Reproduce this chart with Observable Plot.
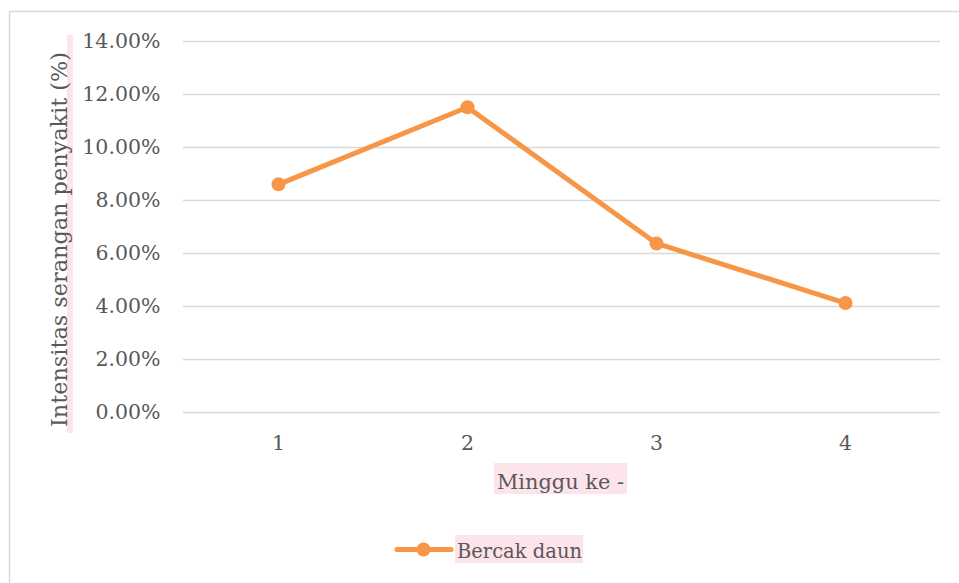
<!DOCTYPE html>
<html>
<head>
<meta charset="utf-8">
<script src="https://cdn.jsdelivr.net/npm/d3@7"></script>
<script src="https://cdn.jsdelivr.net/npm/@observablehq/plot@0.6"></script>
<style>
  html, body { margin: 0; padding: 0; background: #ffffff; }
  #chart { width: 959px; height: 583px; overflow: hidden; }
</style>
</head>
<body>
<div id="chart"></div>
<script>
const weeks = ["1", "2", "3", "4"];
const intensity = [0.0861, 0.1152, 0.0638, 0.0413];
const yTicks = [0, 0.02, 0.04, 0.06, 0.08, 0.10, 0.12, 0.14];
const seriesName = "Bercak daun";
const xTitle = "Minggu ke -";
const yTitle = "Intensitas serangan penyakit (%)";

const data = weeks.map((w, i) => ({ week: w, value: intensity[i] }));

const FONT = "DejaVu Serif";
const TEXT = "#595959";
const ORANGE = "#F79646";
const GRID = "#d9d9d9";
const PINK = "#fde3ea";

const chart = Plot.plot({
  width: 959,
  height: 583,
  marginLeft: 183,
  marginRight: 19,
  marginTop: 41,
  marginBottom: 171,
  style: { fontFamily: FONT, fontSize: "20px", color: TEXT, background: "#ffffff" },
  x: { type: "point", domain: weeks, padding: 0.5, label: null },
  y: { domain: [0, 0.14], label: null },
  marks: [
    Plot.gridY(yTicks, { stroke: GRID, strokeOpacity: 1, strokeWidth: 1.4 }),
    Plot.axisY(yTicks, {
      tickSize: 0, tickPadding: 23, fontSize: 20.5, fill: TEXT, label: null,
      tickFormat: d => (d * 100).toFixed(2) + "%"
    }),
    Plot.axisX({ tickSize: 0, tickPadding: 23, fontSize: 20.5, fill: TEXT, label: null }),
    Plot.line(data, { x: "week", y: "value", stroke: ORANGE, strokeWidth: 5 }),
    Plot.dot(data, { x: "week", y: "value", r: 7, fill: ORANGE })
  ]
});

document.getElementById("chart").appendChild(chart);

const svg = d3.select(chart);

// chart area frame (light grey border)
svg.append("line").attr("x1", 9.5).attr("x2", 9.5).attr("y1", 11.5).attr("y2", 583)
  .attr("stroke", GRID).attr("stroke-width", 1.5);
svg.append("line").attr("x1", 9.5).attr("x2", 959).attr("y1", 11.5).attr("y2", 11.5)
  .attr("stroke", GRID).attr("stroke-width", 1.5);

// y-axis title with highlight strip
svg.append("rect").attr("x", 67).attr("y", 35).attr("width", 6).attr("height", 398).attr("fill", PINK);
svg.append("text")
  .attr("transform", "translate(67,239.5) rotate(-90)")
  .attr("text-anchor", "middle")
  .attr("textLength", 375).attr("lengthAdjust", "spacingAndGlyphs")
  .attr("font-family", FONT).attr("font-size", 21.5).attr("fill", TEXT)
  .text(yTitle);

// x-axis title with highlight box
svg.append("rect").attr("x", 494).attr("y", 463).attr("width", 133).attr("height", 31).attr("fill", PINK);
svg.append("text")
  .attr("x", 560.5).attr("y", 489)
  .attr("text-anchor", "middle")
  .attr("textLength", 127).attr("lengthAdjust", "spacingAndGlyphs")
  .attr("font-family", FONT).attr("font-size", 21).attr("fill", TEXT)
  .text(xTitle);

// legend
svg.append("line").attr("x1", 397).attr("x2", 451).attr("y1", 549.5).attr("y2", 549.5)
  .attr("stroke", ORANGE).attr("stroke-width", 5).attr("stroke-linecap", "round");
svg.append("circle").attr("cx", 423.5).attr("cy", 549.5).attr("r", 7).attr("fill", ORANGE);
svg.append("rect").attr("x", 455).attr("y", 535).attr("width", 128).attr("height", 28).attr("fill", PINK);
svg.append("text")
  .attr("x", 457).attr("y", 558)
  .attr("text-anchor", "start")
  .attr("textLength", 125).attr("lengthAdjust", "spacingAndGlyphs")
  .attr("font-family", FONT).attr("font-size", 20.5).attr("fill", TEXT)
  .text(seriesName);
</script>
</body>
</html>
